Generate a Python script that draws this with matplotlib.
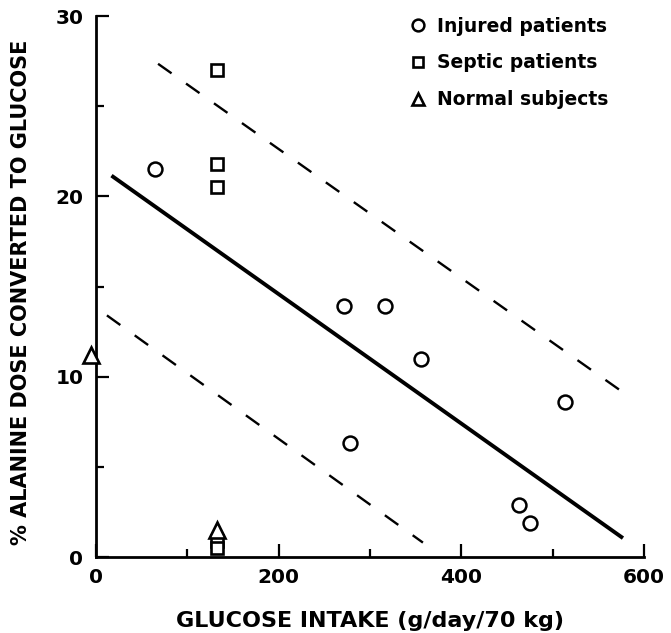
import numpy as np
import matplotlib
matplotlib.use('Agg')
import matplotlib.pyplot as plt
from matplotlib.ticker import MultipleLocator

plt.rcParams['font.family'] = ['DejaVu Sans']
plt.rcParams['font.weight'] = 'bold'

# glucose intake (g/day/70 kg) vs % alanine dose converted to glucose
injured_x = [65, 272, 316, 356, 278, 514, 463, 475]
injured_y = [21.5, 13.9, 13.9, 11.0, 6.3, 8.6, 2.9, 1.9]

septic_x = [133, 133, 133, 133, 133]
septic_y = [27.0, 21.8, 20.5, 0.9, 0.5]

normal_x = [-5, 133]
normal_y = [11.2, 1.5]

# regression line and its confidence band (end points)
fit_x = [17, 577]
fit_y = [21.15, 1.05]
upper_x = [68, 578]
upper_y = [27.35, 9.1]
lower_x = [12, 358]
lower_y = [13.4, 0.8]

fig = plt.figure(figsize=(6.71, 6.33), dpi=100)
ax = fig.add_axes([0.143, 0.12, 0.8167, 0.8547])

ax.plot(fit_x, fit_y, color='black', lw=2.8, solid_capstyle='butt')
ax.plot(upper_x, upper_y, color='black', lw=1.7, dashes=(7, 7.5))
ax.plot(lower_x, lower_y, color='black', lw=1.7, dashes=(7, 7.5))

ax.plot(injured_x, injured_y, 'o', ms=10, mfc='white', mec='black', mew=1.8,
        ls='none', label='Injured patients', zorder=5, clip_on=False)
ax.plot(septic_x, septic_y, 's', ms=8, mfc='white', mec='black', mew=1.9,
        ls='none', label='Septic patients', zorder=5, clip_on=False)
ax.plot(normal_x, normal_y, '^', ms=11, mfc='white', mec='black', mew=1.9,
        ls='none', label='Normal subjects', zorder=6, clip_on=False)

ax.set_xlim(0, 600)
ax.set_ylim(0, 30)
ax.spines['top'].set_visible(False)
ax.spines['right'].set_visible(False)
for s in ['left', 'bottom']:
    ax.spines[s].set_linewidth(2)

ax.xaxis.set_major_locator(MultipleLocator(200))
ax.xaxis.set_minor_locator(MultipleLocator(100))
ax.yaxis.set_major_locator(MultipleLocator(10))
ax.yaxis.set_minor_locator(MultipleLocator(5))
ax.tick_params(which='major', direction='in', length=9.5, width=1.6,
               labelsize=14.5, pad=8)
ax.tick_params(which='minor', direction='in', length=6, width=1.6)
ax.tick_params(axis='y', pad=9)

ax.set_xlabel('GLUCOSE INTAKE (g/day/70 kg)', fontsize=16, fontweight='bold',
              labelpad=17)
ax.set_ylabel('% ALANINE DOSE CONVERTED TO GLUCOSE', fontsize=15,
              fontweight='bold')
ax.yaxis.set_label_coords(-0.119, 0.49)

leg = ax.legend(loc='upper left', bbox_to_anchor=(0.537, 1.03), frameon=False,
                fontsize=13.5, handletextpad=0.4, labelspacing=0.95,
                handlelength=1.2, markerscale=0.85)

fig.savefig('out.png', dpi=100)
